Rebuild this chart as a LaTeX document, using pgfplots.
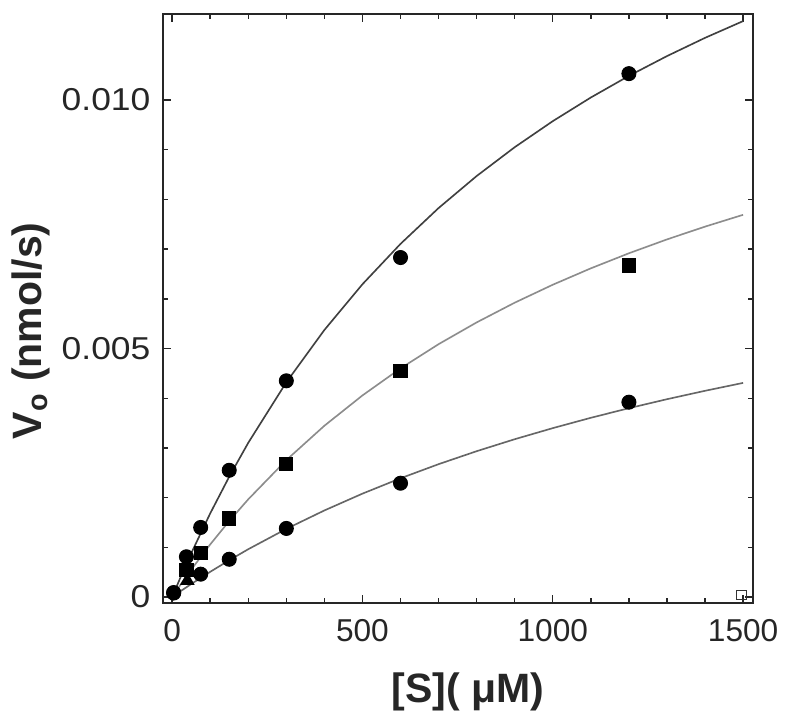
\documentclass[border=0pt]{standalone}
\usepackage{fontspec}
\setmainfont{Liberation Sans}
\usepackage{pgfplots}
\pgfplotsset{compat=1.18}

% fitted curves
\pgfplotstableread{
x     top       mid       bot
0     0         0         0
25    0.000449  0.000280  0.000132
50    0.000878  0.000550  0.000261
100   0.001682  0.001058  0.000507
150   0.002421  0.001529  0.000740
200   0.003103  0.001966  0.000962
300   0.004320  0.002755  0.001371
400   0.005373  0.003446  0.001742
500   0.006293  0.004056  0.002080
600   0.007105  0.004600  0.002389
700   0.007826  0.005087  0.002673
800   0.008470  0.005525  0.002934
900   0.009050  0.005922  0.003175
1000  0.009574  0.006283  0.003398
1100  0.010050  0.006613  0.003606
1200  0.010485  0.006916  0.003799
1300  0.010883  0.007195  0.003980
1400  0.011250  0.007452  0.004149
1500  0.011587  0.007690  0.004308
}\fits

\begin{document}
\begin{tikzpicture}
\useasboundingbox (-2.445,-1.785) rectangle (9.555,9.045);
\begin{axis}[
  scale only axis,
  width=8.85cm, height=8.835cm,
  xmin=-24, xmax=1526,
  ymin=-0.00012, ymax=0.01173,
  xtick={0,500,1000,1500},
  xticklabels={0,500,1000,1500},
  ytick={0,0.005,0.01},
  yticklabels={0,0.005,0.010},
  minor x tick num=4,
  minor y tick num=4,
  tick align=inside,
  major tick length=0.12cm,
  minor tick length=0.075cm,
  axis line style={line width=1pt, black!85},
  every tick/.style={black!85, line width=0.6pt},
  ticklabel style={font=\fontsize{13.5}{16}\selectfont, text=black!85},
  xticklabel style={yshift=-0.12cm},
  yticklabel style={xshift=-0.05cm, xscale=1.12},
  xlabel={\textbf{[S]( μM)}},
  ylabel={\textbf{V\textsubscript{o} (nmol/s)}},
  label style={font=\fontsize{17.5}{20}\selectfont, text=black!85},
  xlabel style={at={(axis description cs:0.517,-0.1511)}, anchor=center},
  ylabel style={at={(axis description cs:-0.2237,0.462)}, anchor=center},
  clip=false,
]
\addplot[no marks, line width=0.7pt, black!75] table[x=x, y=top] {\fits};
\addplot[no marks, line width=0.7pt, black!45] table[x=x, y=mid] {\fits};
\addplot[no marks, line width=0.7pt, black!60] table[x=x, y=bot] {\fits};

% top series
\addplot[only marks, mark=*, mark size=3pt, black] coordinates {
  (4,0.00009) (37.5,0.00081) (75,0.0014) (150,0.00255)
  (300,0.00435) (600,0.00683) (1200,0.01053)
};
% middle series
\addplot[only marks, mark=square*, mark size=2.8pt, black] coordinates {
  (37.5,0.00055) (75,0.00088) (150,0.00158)
  (300,0.00267) (600,0.00454) (1200,0.00667)
};
% bottom series
\addplot[only marks, mark=*, mark size=3pt, black] coordinates {
  (4,0.00008) (75,0.00046) (150,0.00076)
  (300,0.00138) (600,0.00229) (1200,0.00392)
};
\addplot[only marks, mark=triangle*, mark size=3.2pt, black] coordinates {
  (40,0.00033)
};
\addplot[only marks, mark=square, mark size=2pt, black!80] coordinates {
  (1496,0.00004)
};
\end{axis}
\end{tikzpicture}
\end{document}
